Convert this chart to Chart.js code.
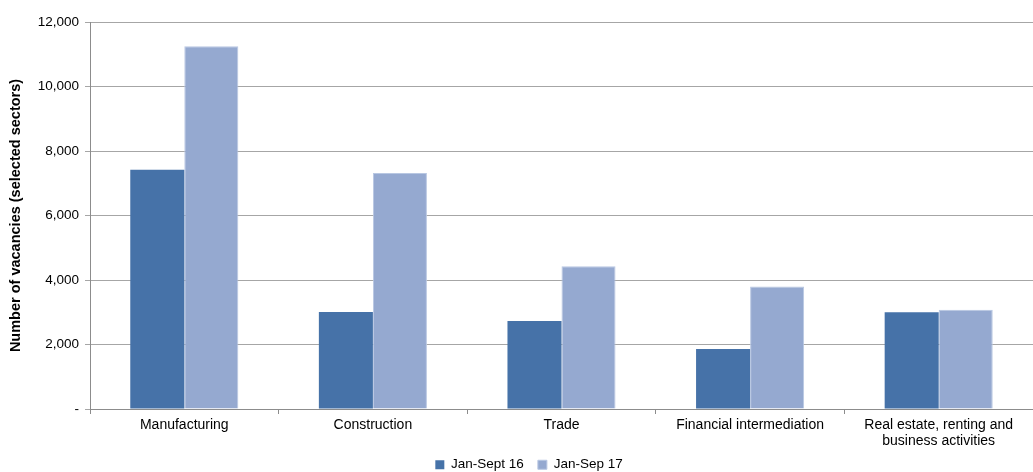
<!DOCTYPE html>
<html>
<head>
<meta charset="utf-8">
<script src="https://cdn.jsdelivr.net/npm/chart.js@4"></script>
<style>
  html, body { margin: 0; padding: 0; background: #fff; }
  #wrap { width: 1033px; height: 472px; }
</style>
</head>
<body>
<div id="wrap"><canvas id="chart"></canvas></div>
<script>
const categories = [
  'Manufacturing',
  'Construction',
  'Trade',
  'Financial intermediation',
  ['Real estate, renting and', 'business activities'],
];
const jan16 = [7420, 3010, 2730, 1860, 3000];
const jan17 = [11250, 7320, 4430, 3800, 3080];
const yTicks = [0, 2000, 4000, 6000, 8000, 10000, 12000];

const FONT = 'Liberation Sans, Arial, sans-serif';

// pull the legend up and a little right so it sits like the original
const legendNudge = {
  id: 'legendNudge',
  afterLayout(chart) {
    chart.legend.top -= 8;
    chart.legend.bottom -= 8;
    chart.legend.left += 9;
    chart.legend.right += 9;
  },
};

const ctx = document.getElementById('chart').getContext('2d');

new Chart(ctx, {
  type: 'bar',
  plugins: [legendNudge],
  data: {
    labels: categories,
    datasets: [
      {
        label: 'Jan-Sept 16',
        data: jan16,
        backgroundColor: '#4672a8',
        borderColor: '#4672a8',
        borderWidth: 0,
      },
      {
        label: 'Jan-Sep 17',
        data: jan17,
        backgroundColor: '#95a9d0',
        borderColor: '#b8c7e2',
        borderWidth: 1,
      },
    ],
  },
  options: {
    responsive: true,
    maintainAspectRatio: false,
    animation: false,
    categoryPercentage: 0.573,
    barPercentage: 1,
    layout: { padding: { top: 22, right: 0, left: 7, bottom: -17.5 } },
    plugins: {
      tooltip: { enabled: false },
      legend: {
        position: 'bottom',
        labels: {
          boxWidth: 9,
          boxHeight: 9,
          padding: 14,
          color: '#000',
          font: { family: FONT, size: 13.5 },
        },
      },
    },
    scales: {
      x: {
        afterFit: (axis) => {
          axis.height = 43;
        },
        grid: {
          offset: true,
          drawOnChartArea: false,
          drawTicks: true,
          tickLength: 5,
          color: '#8c8c8c',
        },
        border: { color: '#8c8c8c' },
        ticks: {
          color: '#000',
          padding: 3,
          maxRotation: 0,
          font: { family: FONT, size: 14, lineHeight: 1.15 },
        },
      },
      y: {
        min: 0,
        max: 12000,
        afterBuildTicks: (axis) => {
          axis.ticks = yTicks.map((v) => ({ value: v }));
        },
        afterFit: (axis) => {
          axis.width = 83;
        },
        grid: {
          color: '#a6a6a6',
          drawTicks: true,
          tickLength: 5,
        },
        border: { color: '#8c8c8c' },
        ticks: {
          color: '#000',
          padding: 6,
          font: { family: FONT, size: 13.5 },
          callback: (v) => (v === 0 ? '-' : v.toLocaleString('en-US')),
        },
        title: {
          display: true,
          text: 'Number of vacancies (selected sectors)',
          color: '#000',
          padding: { top: 0, bottom: 4 },
          font: { family: FONT, size: 14.5, weight: 'bold' },
        },
      },
    },
  },
});
</script>
</body>
</html>
